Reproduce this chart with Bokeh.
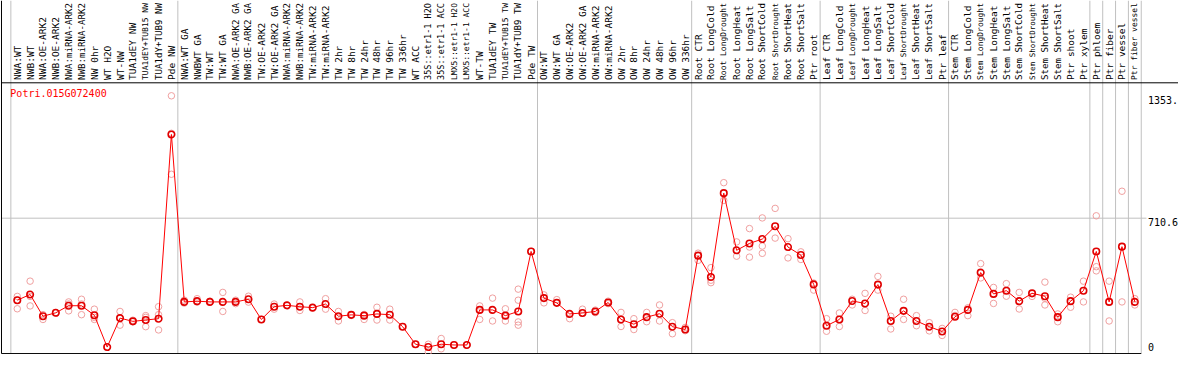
import math
from bokeh.plotting import figure
from bokeh.models import Range1d, ColumnDataSource
from bokeh.embed import file_html
from bokeh.resources import INLINE
from bokeh.core.properties import value

gene = "Potri.015G072400"

samples = [
    "NWA:WT", "NWB:WT", "NWA:OE-ARK2", "NWB:OE-ARK2", "NWA:miRNA-ARK2", "NWB:miRNA-ARK2",
    "NW 0hr", "WT H2O", "WT-NW", "TUA1dEY NW", "TUA1dEY+TUB15 NW", "TUA1dY+TUB9 NW", "Pde NW",
    "NWA:WT GA", "NWBWT GA", "TW:WT", "TW:WT GA", "NWA:OE-ARK2 GA", "NWB:OE-ARK2 GA",
    "TW:OE-ARK2", "TW:OE-ARK2 GA", "NWA:miRNA-ARK2", "NWB:miRNA-ARK2", "TW:miRNA-ARK2",
    "TW:miRNA-ARK2", "TW 2hr", "TW 8hr", "TW 24hr", "TW 48hr", "TW 96hr", "TW 336hr", "WT ACC",
    "35S::etr1-1 H2O", "35S::etr1-1 ACC", "LMX5::etr1-1 H2O", "LMX5::etr1-1 ACC", "WT-TW",
    "TUA1dEY TW", "TUA1dEY+TUB15 TW", "TUA1dY+TUB9 TW", "Pde TW",
    "OW:WT", "OW:WT GA", "OW:OE-ARK2", "OW:OE-ARK2 GA", "OW:miRNA-ARK2", "OW:miRNA-ARK2",
    "OW 2hr", "OW 8hr", "OW 24hr", "OW 48hr", "OW 96hr", "OW 336hr",
    "Root CTR", "Root LongCold", "Root LongDrought", "Root LongHeat", "Root LongSalt",
    "Root ShortCold", "Root ShortDrought", "Root ShortHeat", "Root ShortSalt", "Ptr root",
    "Leaf CTR", "Leaf LongCold", "Leaf LongDrought", "Leaf LongHeat", "Leaf LongSalt",
    "Leaf ShortCold", "Leaf ShortDrought", "Leaf ShortHeat", "Leaf ShortSalt", "Ptr leaf",
    "Stem CTR", "Stem LongCold", "Stem LongDrought", "Stem LongHeat", "Stem LongSalt",
    "Stem ShortCold", "Stem ShortDrought", "Stem ShortHeat", "Stem ShortSalt", "Ptr shoot",
    "Ptr xylem", "Ptr phloem", "Ptr fiber", "Ptr vessel", "Ptr fiber vessel",
]

means = [
    280, 310, 196, 214, 251, 251, 201, 34, 186, 169, 176, 183, 1150,
    271, 275, 271, 271, 271, 285, 179, 246, 253, 246, 241, 260, 196, 203, 199, 208, 204,
    141, 49, 34, 49, 45, 45, 229, 229, 199, 221, 536,
    291, 266, 208, 213, 221, 268, 179, 154, 191, 209, 141, 126,
    514, 402, 842, 542, 578, 601, 668, 559, 517, 363,
    146, 179, 276, 263, 362, 171, 224, 171, 141, 116,
    193, 229, 425, 313, 330, 275, 316, 301, 191, 275,
    330, 536, 271, 561, 271,
]

replicates = [
    [300, 235, 280], [380, 250, 300], [204, 179], [214, 214], [271, 224, 260], [285, 204, 260],
    [233, 179, 190], [34], [221, 149], [169, 175], [199, 141, 190], [246, 204, 124],
    [1353, 941, 1156],
    [280, 265], [288, 270], [271, 275], [321, 221], [280, 262], [301, 270], [179],
    [260, 233], [253], [271, 226], [241], [288, 233], [221, 171], [203, 200], [179, 205],
    [243, 176], [233, 176], [141], [49], [49, 9], [79, 25], [45], [45], [250, 179],
    [291, 171], [235, 171], [338, 280, 166, 149], [536],
    [308, 266], [283], [183], [233, 212], [228, 215], [275, 262], [216, 142], [183, 126],
    [216, 167], [255, 171], [162, 104], [137, 120],
    [527, 489], [451, 372, 385], [897, 804], [586, 511], [656, 559, 506], [712, 564, 526],
    [762, 606], [603, 502], [534, 494], [370, 333],
    [183, 117], [213, 142], [285, 255], [316, 226], [405, 333], [196, 129], [285, 179],
    [199, 146], [162, 119], [132, 95],
    [216, 200], [199, 240], [472, 397], [347, 263], [367, 301], [321, 234], [300],
    [375, 255, 290], [208, 167], [296, 243],
    [380, 271], [723, 456, 434], [380, 171], [852, 271], [288, 255],
]

y_ticks = [1353.0, 710.6]
y_tick_labels = ["1353.", "710.6"]
y_zero_label = "0"
group_breaks = [-0.5, 12.5, 40.5, 52.5, 62.5, 72.5, 83.5, 84.5, 85.5, 86.5, 87.5]
y_top = 1421.2

# ---- layout constants ----
X_LEFT, X_RIGHT = -1.306, 90.40
Y_BOTTOM, Y_TOP = -5.0, 1853.2
BORDER_X = -1.229
FRAME_RIGHT = 87.5
LABEL_Y = 1436.0
LABEL_ROOM_PX = 77.0     # vertical room above the label anchor
BASE_FONT_PX = 9.5
MONO = value("DejaVu Sans Mono")

idx = list(range(len(samples)))
rep_x = [i for i, reps in enumerate(replicates) for _ in reps]
rep_y = [v for reps in replicates for v in reps]

# shrink only the long labels so they stay inside the picture
label_sizes = ["%.2fpx" % min(BASE_FONT_PX, LABEL_ROOM_PX / (0.602 * len(s))) for s in samples]
label_src = ColumnDataSource(dict(x=idx, y=[LABEL_Y] * len(idx), text=samples, size=label_sizes))

p = figure(width=1178, height=354, output_backend="svg", toolbar_location=None,
           x_range=Range1d(X_LEFT, X_RIGHT), y_range=Range1d(Y_BOTTOM, Y_TOP),
           x_axis_location=None, y_axis_location=None, min_border=0,
           outline_line_color=None, background_fill_color="white",
           border_fill_color="white")
p.grid.visible = False

# group separators (full height, through label area)
p.segment(x0=group_breaks, y0=[0] * len(group_breaks), x1=group_breaks,
          y1=[Y_TOP] * len(group_breaks), line_color="#c0c0c0", line_width=1)
# middle gridline
p.segment(x0=[BORDER_X], y0=[y_ticks[1]], x1=[87.9], y1=[y_ticks[1]],
          line_color="#c0c0c0", line_width=1)

# frame lines
p.segment(x0=[BORDER_X, BORDER_X, BORDER_X], y0=[0, y_top, 0],
          x1=[FRAME_RIGHT, X_RIGHT, BORDER_X], y1=[0, y_top, Y_TOP],
          line_color="black", line_width=1)

# sample labels (vertical)
p.text(x="x", y="y", text="text", source=label_src, angle=math.pi / 2,
       text_align="left", text_baseline="middle", text_font=MONO,
       text_font_size="size", text_color="black")

# replicates
p.scatter(rep_x, rep_y, marker="circle", size=6.5, fill_color=None,
          line_color="#f0a0a0", line_width=1)
# mean line + markers
p.line(idx, means, line_color="#ff0000", line_width=1)
p.scatter(idx, means, marker="circle", size=6.5, fill_color=None,
          line_color="#e00000", line_width=1.6)

# gene name
p.text(x=[-0.54], y=[1366], text=[gene], text_align="left", text_baseline="middle",
       text_font=MONO, text_font_size="10px", text_color="#ff0000")

# right-side value labels
p.text(x=[88.02] * len(y_ticks), y=y_ticks, text=y_tick_labels, text_align="left",
       text_baseline="top", text_font=MONO, text_font_size="10px", text_color="black")
p.text(x=[88.02], y=[0], text=[y_zero_label], text_align="left", text_baseline="bottom",
       y_offset=-3, text_font=MONO, text_font_size="10px", text_color="black")

open("out.html", "w").write(file_html(p, INLINE))
